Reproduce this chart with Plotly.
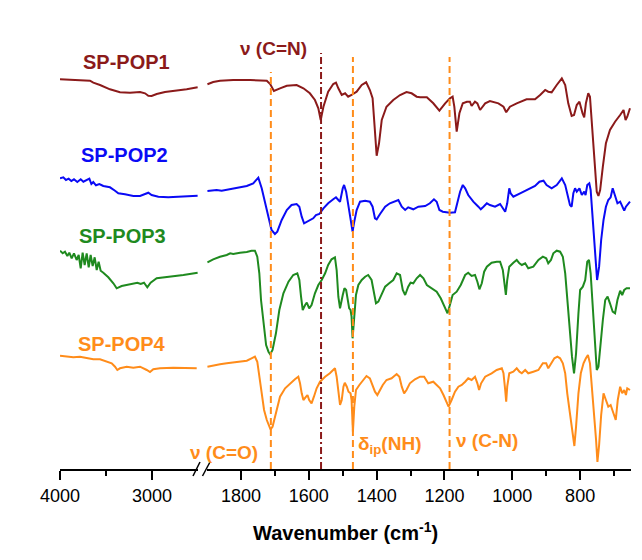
import plotly.graph_objects as go

# ---------------- data ----------------
# High-wavenumber segment (4000-2500 cm-1)
wn_hi_pop1 = [4000, 3891, 3783, 3674, 3638, 3565, 3457, 3348, 3239, 3130, 3076, 3040, 3004, 2949, 2859, 2732, 2623, 2504]
y_hi_pop1 = [390.7, 390.0, 389.3, 389.3, 387.3, 385.0, 380.7, 377.7, 377.3, 378.0, 376.7, 374.3, 374.0, 376.0, 378.0, 379.3, 380.7, 382.7]

wn_hi_pop2 = [4000, 3964, 3935, 3906, 3877, 3848, 3812, 3775, 3746, 3710, 3681, 3659, 3638, 3609, 3572, 3529, 3457, 3402, 3366, 3294, 3203, 3130, 3076, 3040, 3004, 2931, 2823, 2696, 2587, 2504]
y_hi_pop2 = [291.7, 292.7, 290.0, 291.3, 289.0, 290.7, 288.0, 290.7, 288.3, 290.0, 291.3, 286.0, 288.0, 284.7, 286.0, 284.0, 282.7, 279.3, 276.7, 275.7, 274.0, 274.0, 276.0, 277.3, 275.0, 273.3, 272.7, 273.3, 274.0, 274.3]

wn_hi_pop3 = [4000, 3971, 3946, 3920, 3899, 3873, 3848, 3819, 3797, 3775, 3754, 3732, 3710, 3688, 3667, 3645, 3623, 3601, 3580, 3558, 3529, 3475, 3420, 3384, 3330, 3239, 3159, 3123, 3087, 3051, 3015, 2949, 2859, 2768, 2659, 2504]
y_hi_pop3 = [219.3, 216.7, 218.3, 214.0, 217.3, 211.7, 216.7, 210.0, 215.0, 201.7, 217.3, 205.0, 216.7, 202.7, 215.0, 204.0, 212.7, 200.0, 208.3, 199.3, 197.3, 192.7, 186.7, 181.7, 184.0, 186.0, 187.3, 186.0, 187.3, 182.7, 187.3, 191.7, 192.7, 193.3, 195.0, 197.3]

wn_hi_pop4 = [4000, 3927, 3855, 3783, 3710, 3638, 3565, 3492, 3438, 3402, 3377, 3348, 3275, 3203, 3130, 3057, 3022, 2986, 2913, 2768, 2623, 2514]
y_hi_pop4 = [114.3, 113.3, 112.7, 113.3, 111.7, 110.7, 110.7, 108.3, 106.7, 103.3, 100.0, 101.7, 103.3, 102.3, 103.3, 100.0, 98.0, 100.7, 101.7, 102.3, 101.7, 101.7]

# Fingerprint segment (1900-650 cm-1)
wn_lo_pop1 = [1899, 1882, 1862, 1823, 1773, 1724, 1714, 1703, 1685, 1665, 1636, 1616, 1597, 1582, 1572, 1565, 1557, 1543, 1528, 1520, 1513, 1503, 1493, 1484, 1474, 1459, 1444, 1431, 1420, 1412, 1406, 1400, 1393, 1385, 1371, 1351, 1331, 1312, 1297, 1282,
              1272, 1252, 1233, 1215, 1198, 1184, 1176, 1171, 1164, 1156, 1146, 1134, 1125, 1120, 1110, 1103, 1095, 1080, 1066, 1041, 1026, 1018, 1007, 987, 958, 933, 918, 903, 894, 884, 869, 854, 844, 835, 825, 818, 810, 802, 793, 788, 783, 776, 771, 766, 759, 751, 746, 741, 733, 724, 712, 697, 682, 672, 666, 661, 653]
y_lo_pop1 = [385.7, 388.0, 389.3, 390.0, 390.0, 389.3, 386.0, 379.0, 381.7, 384.3, 385.0, 381.7, 376.7, 370.0, 361.7, 350.0, 363.3, 378.3, 386.0, 387.3, 381.7, 375.0, 376.7, 373.3, 375.0, 378.3, 385.0, 387.7, 380.0, 371.7, 343.3, 314.3, 326.7, 350.0, 363.3, 370.0, 375.0, 378.0, 376.7, 373.3,
             372.7, 372.7, 366.7, 359.3, 366.7, 371.7, 373.3, 363.3, 338.3, 356.7, 366.7, 368.3, 368.3, 364.0, 368.3, 366.7, 360.0, 366.7, 369.0, 366.7, 363.3, 357.7, 363.3, 366.7, 370.7, 370.7, 375.0, 380.0, 378.3, 377.7, 385.0, 391.7, 385.0, 366.7, 354.0, 355.0, 365.0, 368.3, 356.7, 352.7, 366.7, 376.7, 373.3, 350.0, 316.7, 278.3, 274.0, 280.0, 303.3, 326.7, 340.0, 348.3, 355.0, 360.0, 350.0, 353.3, 361.7]

wn_lo_pop2 = [1899, 1872, 1857, 1823, 1783, 1764, 1749, 1739, 1729, 1719, 1710, 1700, 1693, 1680, 1665, 1651, 1636, 1628, 1621, 1614, 1602, 1587, 1579, 1569, 1557, 1543, 1528, 1520, 1513, 1508, 1500, 1496, 1490, 1484, 1477, 1471, 1467, 1459, 1449, 1434, 1420, 1412, 1405, 1400, 1390, 1375, 1361, 1346, 1336, 1326, 1316, 1307, 1292, 1277,
              1257, 1243, 1231, 1223, 1215, 1205, 1193, 1184, 1169, 1162, 1154, 1146, 1139, 1130, 1115, 1100, 1093, 1085, 1075, 1066, 1051, 1036, 1026, 1021, 1015, 1009, 1005, 997, 977, 958, 933, 920, 908, 899, 884, 869, 854, 844, 837, 830, 825, 820, 815, 810, 802, 795, 788, 784, 779, 773, 769, 765, 760, 755, 750, 744, 738, 731, 724, 717, 710, 704, 697, 690, 682, 675, 670, 665, 658, 653]
y_lo_pop2 = [279.0, 280.0, 279.3, 281.7, 284.0, 286.7, 292.3, 281.7, 266.7, 251.7, 240.0, 236.0, 238.3, 250.0, 260.0, 265.0, 266.0, 263.3, 253.3, 246.7, 249.3, 251.7, 255.0, 256.0, 261.7, 266.7, 270.7, 272.7, 270.0, 268.3, 281.7, 285.0, 278.3, 265.0, 253.3, 238.3, 246.7, 260.0, 268.3, 269.3, 268.3, 263.3, 251.7, 250.7, 256.0, 263.3, 266.7, 268.3, 270.0, 263.3, 260.0, 262.7, 260.7, 263.3,
             264.0, 266.7, 270.7, 268.3, 260.0, 258.3, 257.7, 257.3, 257.7, 266.7, 278.3, 285.0, 281.7, 275.0, 268.3, 263.3, 260.7, 263.3, 266.7, 265.0, 263.3, 266.0, 260.0, 258.3, 266.7, 281.7, 276.7, 273.3, 276.7, 280.0, 284.0, 288.3, 289.3, 285.0, 281.7, 285.0, 291.7, 285.0, 273.3, 265.0, 263.3, 276.7, 281.7, 278.3, 281.7, 275.0, 278.3, 275.0, 285.0, 286.7, 280.0, 260.0, 233.3, 206.7, 190.0, 203.3, 230.0, 250.0, 263.3, 270.0, 272.7, 281.7, 273.3, 266.7, 268.3, 263.3, 259.3, 263.3, 266.7, 268.3]

wn_lo_pop3 = [1899, 1882, 1862, 1842, 1832, 1823, 1803, 1783, 1769, 1759, 1752, 1746, 1741, 1734, 1726, 1719, 1714, 1707, 1697, 1687, 1675, 1660, 1646, 1634, 1628, 1623, 1618, 1611, 1606, 1599, 1592, 1582, 1572, 1562, 1552, 1543, 1533, 1523, 1518, 1513, 1508, 1500, 1495, 1490, 1485, 1481, 1477, 1474, 1471, 1467, 1461, 1454, 1444, 1434, 1425, 1415, 1408, 1402, 1395, 1385, 1375, 1363, 1351, 1341, 1331, 1323, 1316, 1307, 1300, 1292, 1282, 1272,
              1262, 1252, 1238, 1223, 1211, 1201, 1191, 1184, 1176, 1164, 1152, 1139, 1130, 1120, 1110, 1103, 1097, 1090, 1083, 1075, 1061, 1046, 1036, 1028, 1022, 1019, 1015, 1009, 997, 987, 979, 972, 962, 953, 938, 923, 910, 900, 894, 886, 879, 869, 859, 851, 844, 838, 830, 824, 818, 812, 805, 800, 792, 785, 779, 774, 769, 763, 757, 751, 746, 741, 733, 726, 719, 712, 704, 697, 690, 682, 676, 670, 663, 653]
y_lo_pop3 = [207.7, 210.7, 213.3, 215.0, 216.7, 216.0, 217.3, 218.0, 219.3, 219.3, 213.3, 196.7, 170.0, 146.7, 125.0, 118.3, 115.7, 120.0, 136.7, 160.0, 176.7, 188.3, 195.0, 196.7, 190.0, 173.3, 160.0, 165.0, 167.3, 161.7, 165.0, 176.7, 185.0, 190.0, 196.7, 205.0, 210.7, 212.7, 200.0, 173.3, 161.7, 175.0, 181.7, 180.0, 168.3, 161.7, 160.0, 153.3, 131.7, 150.0, 175.0, 185.0, 190.0, 193.3, 195.0, 190.0, 178.3, 166.7, 168.3, 175.0, 183.3, 186.7, 190.0, 196.7, 195.0, 180.0, 175.0, 183.3, 187.3, 186.7, 191.7, 195.0,
             191.7, 185.0, 181.7, 178.3, 171.7, 163.3, 156.7, 165.0, 175.0, 178.3, 185.0, 195.0, 197.3, 194.0, 195.0, 188.3, 180.7, 186.7, 198.3, 203.3, 207.3, 208.3, 208.3, 200.0, 183.3, 175.0, 190.0, 203.3, 207.3, 210.0, 206.7, 205.0, 206.7, 201.7, 203.3, 210.0, 213.3, 211.7, 206.7, 210.0, 216.7, 219.3, 218.3, 213.3, 196.7, 170.0, 140.0, 113.3, 96.7, 116.7, 156.7, 180.0, 183.3, 190.0, 208.3, 210.0, 196.7, 163.3, 126.7, 100.0, 103.3, 123.3, 150.0, 170.0, 173.3, 166.7, 158.3, 156.7, 170.0, 179.3, 175.0, 180.0, 181.7, 181.7]

wn_lo_pop4 = [1899, 1882, 1862, 1842, 1823, 1803, 1783, 1769, 1759, 1752, 1746, 1739, 1732, 1724, 1718, 1713, 1707, 1697, 1685, 1670, 1655, 1641, 1631, 1626, 1621, 1616, 1608, 1604, 1599, 1592, 1585, 1577, 1567, 1552, 1538, 1523, 1518, 1513, 1508, 1503, 1498, 1494, 1488, 1483, 1477, 1474, 1470, 1466, 1461, 1451, 1439, 1430, 1420, 1412, 1405, 1398, 1390, 1382, 1371, 1356, 1341, 1333, 1326, 1319, 1312, 1302, 1287, 1272,
              1260, 1248, 1233, 1223, 1213, 1203, 1193, 1188, 1179, 1169, 1159, 1149, 1139, 1130, 1120, 1110, 1103, 1098, 1092, 1080, 1061, 1046, 1031, 1026, 1021, 1018, 1015, 1009, 997, 987, 979, 972, 962, 953, 938, 923, 910, 900, 894, 886, 876, 867, 859, 851, 844, 838, 830, 822, 817, 812, 805, 798, 790, 783, 777, 771, 765, 759, 753, 749, 744, 738, 731, 724, 717, 710, 702, 695, 689, 682, 676, 670, 665, 661, 653]
y_lo_pop4 = [103.3, 104.7, 105.7, 106.7, 107.3, 108.3, 109.3, 111.7, 113.3, 108.3, 93.3, 73.3, 60.0, 50.0, 45.0, 40.7, 43.3, 56.7, 73.3, 81.7, 86.7, 90.7, 93.3, 86.7, 76.7, 70.0, 73.3, 75.0, 70.0, 66.7, 73.3, 81.7, 88.3, 93.3, 96.7, 101.7, 93.3, 76.7, 65.0, 70.0, 83.3, 87.3, 83.3, 78.3, 76.7, 70.0, 38.3, 63.3, 80.0, 85.0, 90.0, 94.0, 91.7, 85.0, 78.3, 75.0, 80.0, 85.0, 90.0, 91.7, 96.0, 93.3, 83.3, 76.7, 80.0, 86.7, 90.7, 93.3,
             93.3, 86.7, 88.3, 85.0, 81.7, 75.0, 66.7, 63.3, 70.0, 78.3, 83.3, 85.0, 88.3, 91.7, 90.0, 93.3, 86.7, 80.0, 86.7, 93.3, 96.7, 100.0, 101.7, 96.7, 80.0, 68.3, 83.3, 96.7, 98.3, 101.7, 98.3, 96.7, 100.0, 96.7, 98.3, 100.0, 106.7, 106.7, 101.7, 106.7, 111.7, 113.3, 111.7, 106.7, 96.7, 76.7, 56.7, 40.0, 24.0, 43.3, 76.7, 96.7, 106.7, 111.7, 115.0, 106.7, 83.3, 56.7, 30.0, 8.0, 25.0, 55.0, 76.7, 70.0, 63.3, 65.0, 56.7, 50.0, 70.0, 83.3, 76.7, 80.0, 75.0, 81.7, 80.0]

samples = ["SP-POP1", "SP-POP2", "SP-POP3", "SP-POP4"]
colors = ["#8B1A1A", "#0A0AF5", "#1F8A1F", "#FF8C1A"]

# band assignments (cm-1) and labels
band_wn = [1712, 1564, 1470, 1185]
band_labels = ["ν (C=O)", "ν (C=N)", "δ<sub>ip</sub>(NH)", "ν (C-N)"]

left_ticks = [4000, 3000]
left_minor = [3500]
right_ticks = [1800, 1600, 1400, 1200, 1000, 800]
right_minor = [1700, 1500, 1300, 1100, 900, 700]

# ---------------- figure ----------------
FONT = "Arial, 'Liberation Sans', Helvetica, sans-serif"
hi = [(wn_hi_pop1, y_hi_pop1), (wn_hi_pop2, y_hi_pop2), (wn_hi_pop3, y_hi_pop3), (wn_hi_pop4, y_hi_pop4)]
lo = [(wn_lo_pop1, y_lo_pop1), (wn_lo_pop2, y_lo_pop2), (wn_lo_pop3, y_lo_pop3), (wn_lo_pop4, y_lo_pop4)]

fig = go.Figure()
for name, col, (xh, yh), (xl, yl) in zip(samples, colors, hi, lo):
    fig.add_trace(go.Scatter(x=xh, y=yh, mode="lines", line=dict(color=col, width=2),
                             xaxis="x", yaxis="y", name=name, showlegend=False, hoverinfo="skip"))
    fig.add_trace(go.Scatter(x=xl, y=yl, mode="lines", line=dict(color=col, width=2),
                             xaxis="x2", yaxis="y", name=name, showlegend=False, hoverinfo="skip"))

# page offset of the plot div (default body margin)
OFF = 8
PAGE_W, PAGE_H = 642, 560
W, H = PAGE_W - OFF, PAGE_H - OFF
PL, PR, PT, PB = 60, 631, 20, 469       # plot area in page pixels
L, T = PL - OFF, PT - OFF
R, B = PAGE_W - PR, PAGE_H - PB
pw, ph = PR - PL, PB - PT

def px(xp):
    return (xp - PL) / pw

def py(yp):
    return (PB - yp) / ph

axis_common = dict(showline=True, linecolor="black", linewidth=2, ticks="outside", ticklen=9,
                   tickwidth=2, tickcolor="black", showgrid=False, zeroline=False,
                   tickfont=dict(family=FONT, size=18, color="black"), fixedrange=True)

fig.update_layout(
    width=W, height=H,
    margin=dict(l=L, r=R, t=T, b=B, pad=0),
    paper_bgcolor="white", plot_bgcolor="white",
    xaxis=dict(domain=[0, px(198)], range=[4000, 2500], anchor="y",
               tickvals=left_ticks, ticktext=[str(v) for v in left_ticks],
               minor=dict(tickvals=left_minor, ticks="outside", ticklen=5, tickwidth=2, tickcolor="black"),
               **axis_common),
    xaxis2=dict(domain=[px(207.1), 1], range=[1900, 650], anchor="y",
                tickvals=right_ticks, ticktext=[str(v) for v in right_ticks],
                minor=dict(tickvals=right_minor, ticks="outside", ticklen=5, tickwidth=2, tickcolor="black"),
                **axis_common),
    yaxis=dict(range=[1, 1 + ph], visible=False, fixedrange=True, anchor="x"),
    showlegend=False,
)

# band marker lines
band_tops = [398, 417, 413, 413]
band_colors = [colors[3], colors[0], colors[3], colors[3]]
band_dash = ["7px,4px", "7px,3px,2px,3px", "7px,4px", "7px,4px"]
for wn, top, c, d in zip(band_wn, band_tops, band_colors, band_dash):
    fig.add_shape(type="line", xref="x2", yref="y", x0=wn, x1=wn, y0=1, y1=top,
                  line=dict(color=c, width=2, dash=d), layer="above")

# axis break marks
for x0, x1 in [(193, 200), (202.5, 210)]:
    fig.add_shape(type="line", xref="paper", yref="paper", x0=px(x0), x1=px(x1), y0=py(476), y1=py(462),
                  line=dict(color="black", width=1.5))

# sample labels
label_pos = [(126, 61.5), (124, 154.5), (122, 235.5), (122, 343.5)]
for name, col, (xp, yp) in zip(samples, colors, label_pos):
    fig.add_annotation(x=px(xp), y=py(yp), xref="paper", yref="paper", text="<b>%s</b>" % name,
                       showarrow=False, xanchor="center", yanchor="middle",
                       font=dict(family=FONT, size=20, color=col))

# band labels
band_label_pos = [(224, 452), (273, 48), (389, 445), (487, 440)]
band_label_col = [colors[3], colors[0], colors[3], colors[3]]
for txt, col, (xp, yp) in zip(band_labels, band_label_col, band_label_pos):
    fig.add_annotation(x=px(xp), y=py(yp), xref="paper", yref="paper", text="<b>%s</b>" % txt,
                       showarrow=False, xanchor="center", yanchor="middle",
                       font=dict(family=FONT, size=19, color=col))

# axis title
fig.add_annotation(x=0.5, y=py(531), xref="paper", yref="paper",
                   text="<b>Wavenumber (cm<sup>-1</sup>)</b>", showarrow=False,
                   xanchor="center", yanchor="middle", font=dict(family=FONT, size=20, color="black"))

fig.write_html("out.html")
